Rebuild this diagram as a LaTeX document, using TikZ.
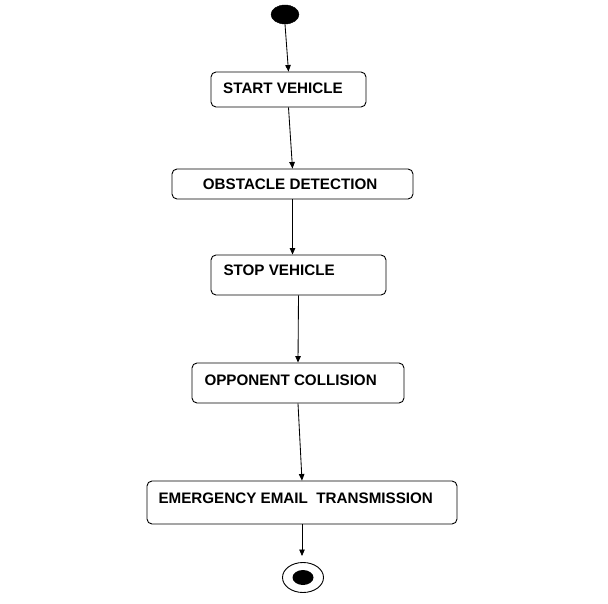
\documentclass[tikz,border=0pt]{standalone}
\usepackage{fontspec}
\setmainfont{Liberation Sans}
\usetikzlibrary{shapes.geometric,arrows.meta,calc}
\tikzset{
  box/.style={draw, rounded corners=5pt, line width=0.9pt, inner sep=0pt},
  lbl/.style={anchor=base west, inner sep=0pt, font=\fontsize{15.2}{18}\selectfont\bfseries},
  conn/.style={line width=0.85pt, -{Triangle[length=6.5pt,width=5.5pt]}},
  initst/.style={ellipse, fill=black, draw=black, inner sep=0pt, minimum width=28pt, minimum height=19pt},
}
\begin{document}
\begin{tikzpicture}[x=1pt,y=-1pt]
\useasboundingbox (0,0) rectangle (608,604);
\node[initst] (start) at (285,14.5) {};
\node[box, minimum width=155pt, minimum height=35pt] (sv) at (288.5,89.5) {};
\node[lbl] (svt) at (223,93.3) {START VEHICLE};
\node[box, minimum width=241pt, minimum height=30pt] (od) at (292.5,184) {};
\node[lbl] (odt) at (202.7,190) {OBSTACLE DETECTION};
\node[box, minimum width=175pt, minimum height=40pt] (st) at (298.5,275) {};
\node[lbl] (stt) at (223.3,275.7) {STOP VEHICLE};
\node[box, minimum width=212pt, minimum height=40pt] (oc) at (298,383) {};
\node[lbl] (oct) at (204.3,385.3) {OPPONENT COLLISION};
\node[box, minimum width=310pt, minimum height=43pt] (em) at (302,502.5) {};
\node[lbl] (emt) at (158.3,503.7) {EMERGENCY EMAIL\ \ TRANSMISSION};
\node[ellipse, draw, line width=0.9pt, inner sep=0pt, minimum width=41pt, minimum height=30pt] (fin) at (303,577.5) {};
\node[ellipse, fill=black, inner sep=0pt, minimum width=21pt, minimum height=15pt] (fininner) at (fin.center) {};
\coordinate (tip) at (302,556);
\draw[conn] (start.south) -- (sv.north);
\draw[conn] (sv.south) -- (od.north);
\draw[conn] (od.south) -- (od.south |- st.north);
\draw[conn] (st.south) -- (oc.north);
\draw[conn] (oc.south) -- (em.north);
\draw[conn] (em.south) -- (tip);
\end{tikzpicture}
\end{document}
